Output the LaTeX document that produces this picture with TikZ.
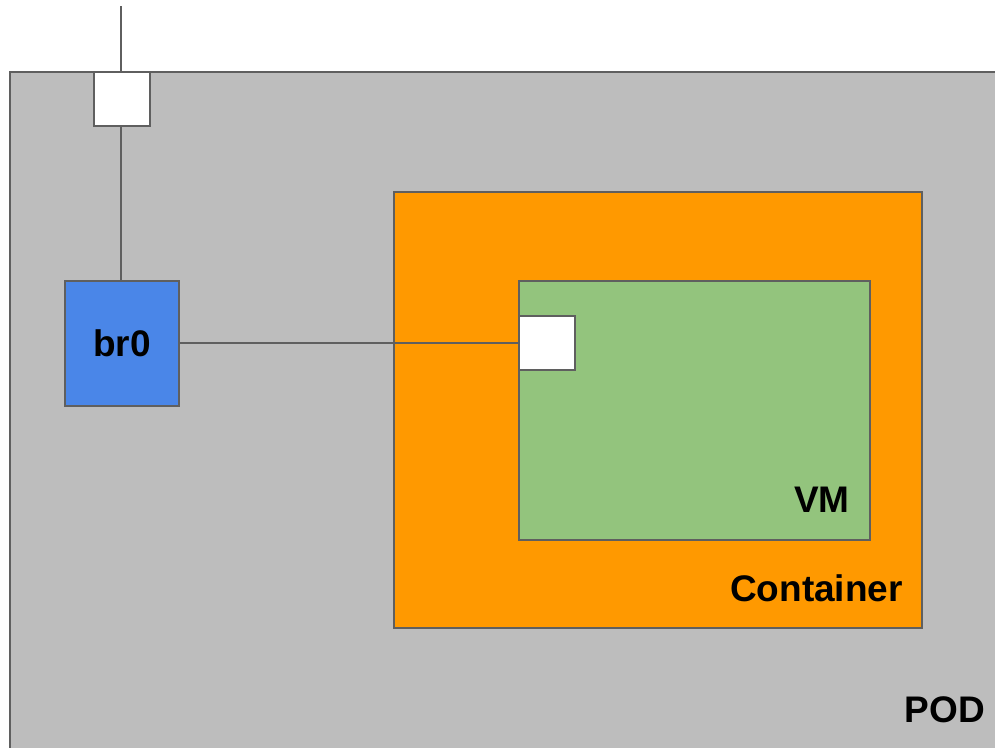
\documentclass[tikz,border=0pt]{standalone}
\usepackage{fontspec}
\setmainfont{Liberation Sans}
\definecolor{podgray}{HTML}{BDBDBD}
\definecolor{ctorange}{HTML}{FF9900}
\definecolor{vmgreen}{HTML}{93C47D}
\definecolor{brblue}{HTML}{4A86E8}
\definecolor{edge}{HTML}{5F5F5F}
\tikzset{
  box/.style={draw=edge, line width=2pt, rectangle, inner sep=0pt, outer sep=0pt, anchor=north west},
  port/.style={box, fill=white, minimum width=56pt, minimum height=54pt},
  wire/.style={draw=edge, line width=1.6pt},
  lbl/.style={font=\fontsize{37}{40}\selectfont\bfseries, inner sep=0pt, anchor=base east}
}
\begin{document}
\begin{tikzpicture}[x=1pt,y=-1pt]
  \useasboundingbox (0,0) rectangle (995,747);
  \begin{scope}
    \clip (0,0) rectangle (995,747);
    % outer pod area, running off the right and bottom edges
    \node[box, fill=podgray, minimum width=1000pt, minimum height=700pt] (pod) at (10,72) {};
  \end{scope}
  % uplink port and bridge
  \node[port] (uplink) at (94,72) {};
  \node[box, fill=brblue, minimum width=114pt, minimum height=125pt] (br0) at (65,281) {};
  \node[font=\fontsize{37}{40}\selectfont\bfseries] (br0lbl) at (br0.center) {br0};
  % container with the VM inside
  \node[box, fill=ctorange, minimum width=528pt, minimum height=436pt] (ct) at (394,192) {};
  \node[box, fill=vmgreen, minimum width=351pt, minimum height=259pt] (vm) at (519,281) {};
  \node[port] (vmport) at (519,316) {};
  % links
  \coordinate (ext) at (121,6);
  \draw[wire] (ext) -- (uplink.north -| ext);
  \draw[wire] (uplink.south -| ext) -- (br0.north -| ext);
  \draw[wire] (br0.east |- vmport.west) -- (vmport.west);
  % labels
  \node[lbl] (vmlbl) at (850,512) {VM};
  \node[lbl] (ctlbl) at (903,601) {Container};
  \node[lbl] (podlbl) at (985,722) {POD};
\end{tikzpicture}
\end{document}
